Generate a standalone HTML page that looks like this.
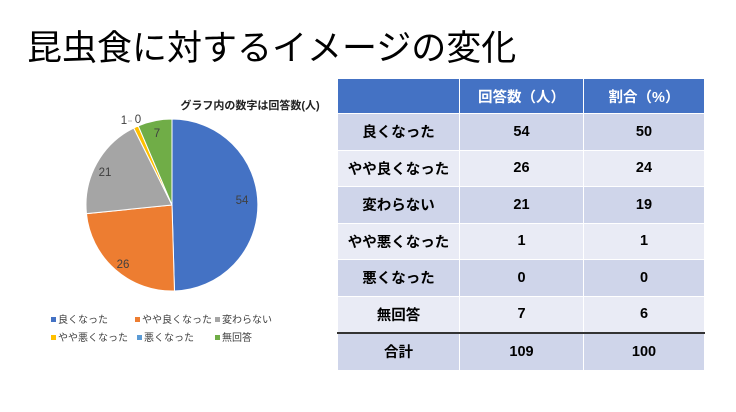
<!DOCTYPE html>
<html><head><meta charset="utf-8"><style>
body{margin:0;width:736px;height:412px;background:#fff;position:relative;overflow:hidden;font-family:"Liberation Sans","Noto Sans CJK JP",sans-serif}
.t{position:absolute;left:27px;top:20px;font-size:35px;color:#000;white-space:nowrap}
table{position:absolute;left:337px;top:78px;border-collapse:collapse;width:368px}
td{height:35.5px;text-align:center;font-weight:bold;font-size:14.5px;color:#000;border:1.5px solid #fff;padding:0}
tr.h td{background:#4472C4;color:#fff;height:34px}
tr.a td{background:#CFD5EA}
tr.b td{background:#E9EBF5}
tr.tot td{border-top:2px solid #333}
.c1{width:121px}.c2{width:123px}
</style></head><body>
<div class="t">昆虫食に対するイメージの変化</div>
<svg width="736" height="412" style="position:absolute;left:0;top:0" font-family="Liberation Sans, Noto Sans CJK JP, sans-serif">
<g stroke="#fff" stroke-width="1">
<path d="M172,205 L172,119 A86,86 0 0 1 174.48,290.96 Z" fill="#4472C4"/>
<path d="M172,205 L174.48,290.96 A86,86 0 0 1 86.44,213.66 Z" fill="#ED7D31"/>
<path d="M172,205 L86.44,213.66 A86,86 0 0 1 133.73,127.99 Z" fill="#A5A5A5"/>
<path d="M172,205 L133.73,127.99 A86,86 0 0 1 138.24,125.9 Z" fill="#FFC000"/>
<path d="M172,205 L138.24,125.9 A86,86 0 0 1 172,119 Z" fill="#70AD47"/>
</g>
<text x="250" y="109" font-size="11" font-weight="bold" text-anchor="middle" fill="#222">グラフ内の数字は回答数(人)</text>
<g font-size="11.5" fill="#404040" text-anchor="middle">
<text x="242" y="204">54</text><text x="123" y="268">26</text><text x="105" y="176">21</text>
<text x="157" y="137">7</text><text x="124" y="124">1</text><text x="138" y="123">0</text>
</g>
<line x1="128" y1="121" x2="132" y2="121" stroke="#bbb"/>
<g font-size="10" fill="#404040">
<rect x="51" y="317" width="5" height="5" fill="#4472C4"/><text x="58" y="323">良くなった</text>
<rect x="135" y="317" width="5" height="5" fill="#ED7D31"/><text x="142" y="323">やや良くなった</text>
<rect x="215" y="317" width="5" height="5" fill="#A5A5A5"/><text x="222" y="323">変わらない</text>
<rect x="51" y="335" width="5" height="5" fill="#FFC000"/><text x="58" y="341">やや悪くなった</text>
<rect x="137" y="335" width="5" height="5" fill="#5B9BD5"/><text x="144" y="341">悪くなった</text>
<rect x="215" y="335" width="5" height="5" fill="#70AD47"/><text x="222" y="341">無回答</text>
</g>
</svg>
<table>
<tr class="h"><td class="c1"></td><td class="c2">回答数（人）</td><td>割合（%）</td></tr>
<tr class="a"><td>良くなった</td><td>54</td><td>50</td></tr>
<tr class="b"><td>やや良くなった</td><td>26</td><td>24</td></tr>
<tr class="a"><td>変わらない</td><td>21</td><td>19</td></tr>
<tr class="b"><td>やや悪くなった</td><td>1</td><td>1</td></tr>
<tr class="a"><td>悪くなった</td><td>0</td><td>0</td></tr>
<tr class="b"><td>無回答</td><td>7</td><td>6</td></tr>
<tr class="a tot"><td>合計</td><td>109</td><td>100</td></tr>
</table>
</body></html>
